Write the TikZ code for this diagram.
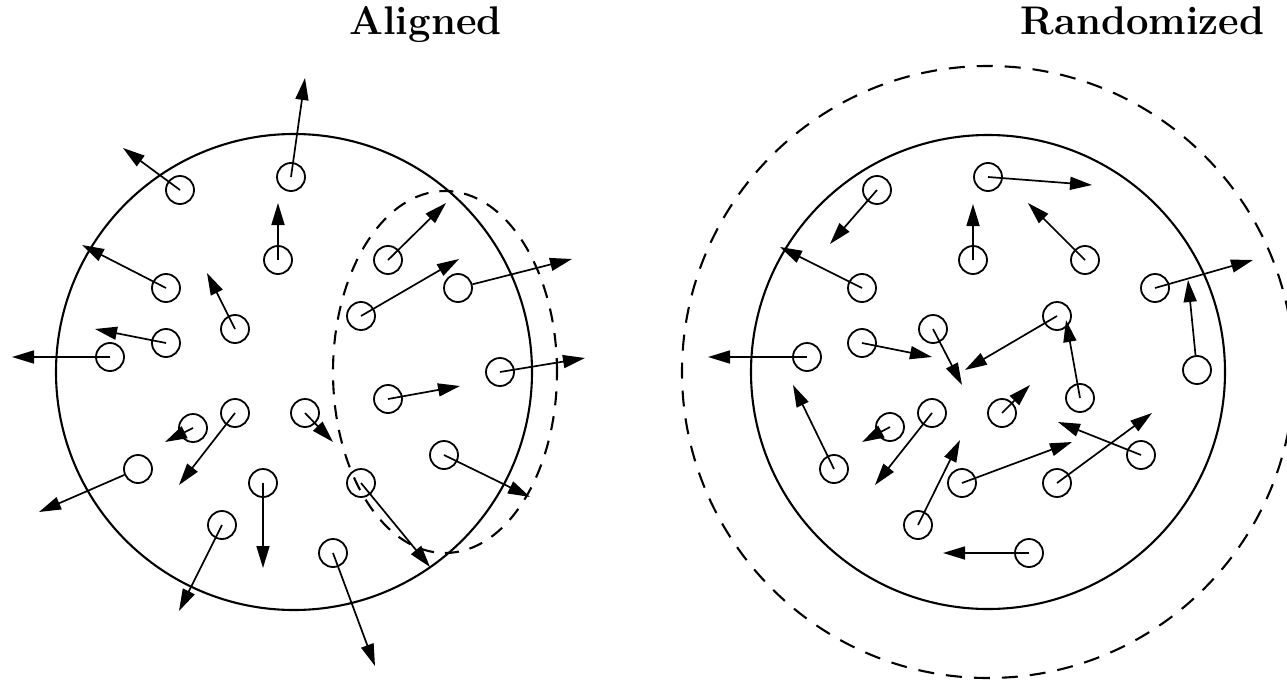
\documentclass[tikz,border=0pt]{standalone}
\usetikzlibrary{arrows.meta,shapes.geometric}
\begin{document}
\begin{tikzpicture}[x=1pt,y=-1pt,
  particle/.style={circle,draw,line width=1.8pt,minimum size=28pt,inner sep=0pt},
  vel/.style={line width=1.7pt,-{Triangle[length=22pt,width=13pt]}},
  boundary/.style={line width=2.1pt},
  outer/.style={line width=2.1pt,dash pattern=on 16pt off 12pt},
  title/.style={font=\fontsize{40}{48}\selectfont\bfseries,inner sep=0pt,anchor=base}]
\useasboundingbox (0,0) rectangle (1287,682);
% titles
\node[title] (tA) at (425.5,35) {Aligned};
\node[title] (tR) at (1142.5,35) {Randomized};
% ---------- Aligned ----------
\node[boundary,circle,draw,minimum size=476pt,inner sep=0pt] (bigL) at (294,372) {};
\node[outer,ellipse,draw,minimum width=224pt,minimum height=362pt,inner sep=0pt,dash pattern=on 14pt off 11pt] (dashL) at (445,372) {};
\foreach \n/\cx/\cy/\tx/\ty in {
  1/291/177/305/78, 2/180/190/123/148, 3/278/260/278/203, 4/166/288/82/245,
  5/235/329/207/273, 6/166/343/95/329, 7/110/357/12/357, 8/388/260/446/203,
  9/361/316/459/259, 11/500/372/585/358, 12/388/399/460/386,
  13/193/428/165/442, 14/235/413/179/485, 15/305/413/333/442,
  17/263/483/263/568, 18/222/525/179/611, 19/361/483/430/567,
  20/444/455/530/497, 21/333/553/375/666}{
  \node[particle] (a\n) at (\cx,\cy) {};
  \coordinate (at\n) at (\tx,\ty);
  \draw[vel] (a\n.center) -- (at\n);
}
\node[particle] (a10) at (458,288) {};
\coordinate (at10) at (572,259);
\draw[vel] (a10) -- (at10);
\node[particle] (a16) at (138,469) {};
\coordinate (at16) at (39,512);
\draw[vel] (a16) -- (at16);
% ---------- Randomized ----------
\node[boundary,circle,draw,minimum size=474pt,inner sep=0pt] (bigR) at (988,372) {};
\node[outer,circle,draw,minimum size=612pt,inner sep=0pt] (dashR) at (988,372) {};
\foreach \n/\cx/\cy/\tx/\ty in {
  1/877/190/830/244, 2/988/177/1092/185, 3/973/260/973/204, 4/1085/260/1028/203,
  5/862/288/780/247, 6/1155/288/1253/260, 8/862/343/932/357,
  9/933/329/962/385, 10/1057/316/965/370, 11/807/357/708/357,
  12/1080/398/1066/320, 13/834/469/793/385, 14/890/427/862/442,
  15/932/413/875/485, 16/1002/413/1030/385, 17/1141/455/1058/422,
  18/1057/483/1152/413, 19/962/483/1072/442, 20/918/525/960/440,
  21/1029/553/943/553}{
  \node[particle] (r\n) at (\cx,\cy) {};
  \coordinate (rt\n) at (\tx,\ty);
  \draw[vel] (r\n.center) -- (rt\n);
}
\node[particle] (r7) at (1197,370) {};
\coordinate (rt7) at (1188,280);
\draw[vel] (r7) -- (rt7);
\end{tikzpicture}
\end{document}
